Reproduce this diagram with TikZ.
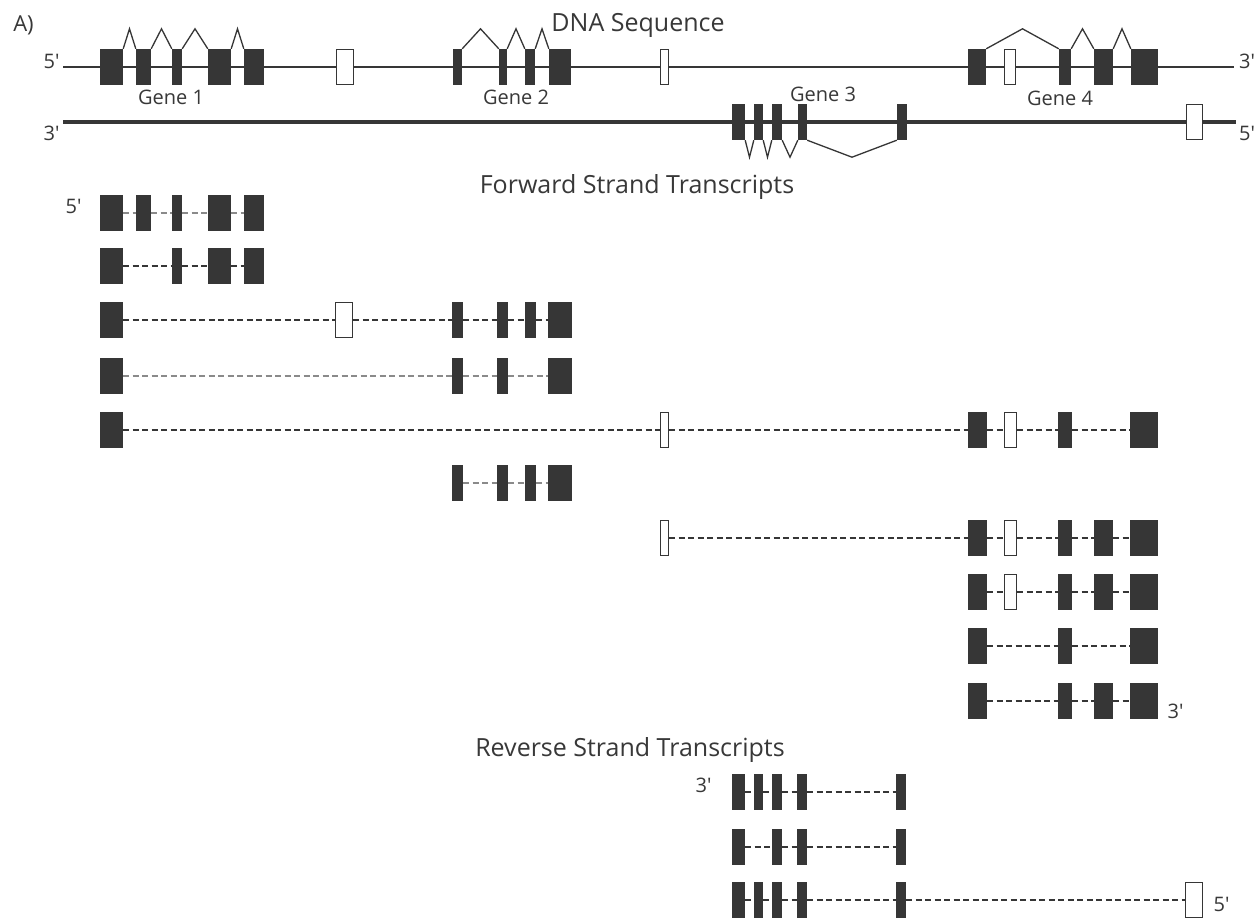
\documentclass[tikz,border=0pt]{standalone}
\usepackage{fontspec}
\setmainfont{Open Sans}
\usetikzlibrary{calc}
\definecolor{ink}{HTML}{363636}
\definecolor{txt}{HTML}{383838}
\definecolor{lgray}{HTML}{8A8A8A}
\tikzset{
 exon/.style={fill=ink, draw=none, inner sep=0pt, minimum height=36},
 openx/.style={fill=white, draw=ink, line width=1.4pt, inner sep=0pt, minimum height=34.6},
 strand/.style={draw=ink, line width=2.6pt},
 strandb/.style={draw=ink, line width=4pt},
 hat/.style={draw=ink, line width=1.3pt, line join=miter},
 intr/.style={draw=ink, line width=1.6pt, dash pattern=on 6pt off 3.5pt},
 intrl/.style={intr, draw=lgray},
 lbl/.style={text=txt, inner sep=0pt, anchor=base, font=\fontsize{20}{24}\selectfont},
 ttl/.style={lbl, font=\fontsize{25}{30}\selectfont},
}
% exon node: name, x1, x2, y
\newcommand\gx[4]{\node[exon,minimum width={#3-#2}] (#1) at ({(#2+#3)/2},#4) {};}
% open (untranslated) box node
\newcommand\ox[4]{\node[openx,minimum width={#3-#2-1.4}] (#1) at ({(#2+#3)/2},#4) {};}
\newcommand\hatc[2]{\draw[hat] (#1.north east) -- ($(#1.north east)!0.5!(#2.north west)+(0,-20)$) -- (#2.north west);}
\newcommand\trough[2]{\draw[hat] (#1.south east) -- ($(#1.south east)!0.5!(#2.south west)+(0,17)$) -- (#2.south west);}
\newcommand\pr{\textquotesingle}
\begin{document}
\begin{tikzpicture}[x=1pt,y=-1pt]
\fill[white] (0,0) rectangle (1259,919);
\useasboundingbox (0,0) rectangle (1259,919);

% ---------- labels (placed at baseline) ----------
\node[lbl, font=\fontsize{22}{26}\selectfont] (lA) at (23.5,31) {A)};
\node[ttl] (ldna) at (638,31.5) {DNA Sequence};
\node[lbl] (lt5) at (51.5,68) {5\pr};
\node[lbl] (lt3) at (1247,68) {3\pr};
\node[lbl] (lb3) at (51.5,140) {3\pr};
\node[lbl] (lb5) at (1247,140) {5\pr};
\node[lbl] (lg1) at (171,104) {Gene 1};
\node[lbl] (lg2) at (516,104) {Gene 2};
\node[lbl] (lg3) at (823,101) {Gene 3};
\node[lbl] (lg4) at (1060,105) {Gene 4};
\node[ttl] (lfw) at (637,193) {Forward Strand Transcripts};
\node[ttl] (lrv) at (630,756) {Reverse Strand Transcripts};
\node[lbl] (lr5) at (73.5,213) {5\pr};
\node[lbl] (lr3) at (1175.5,718) {3\pr};
\node[lbl] (lv3) at (703.5,792) {3\pr};
\node[lbl] (lv5) at (1221.5,911) {5\pr};

% ---------- DNA strands ----------
\coordinate (t5) at (63,67);
\coordinate (t3) at (1234,67);
\draw[strand] (t5) -- (t3);
\coordinate (b3) at (63,122);
\coordinate (b5) at (1236,122);
\draw[strandb] (b3) -- (b5);

% top strand genes
\gx{g1a}{100}{123}{67} \gx{g1b}{136}{151}{67} \gx{g1c}{172}{182}{67}
\gx{g1d}{208}{231}{67} \gx{g1e}{244}{264}{67}
\ox{g1o}{336}{354}{67}
\gx{g2a}{453}{462}{67} \gx{g2b}{499}{507}{67} \gx{g2c}{525}{535}{67} \gx{g2d}{549}{571}{67}
\ox{g2o}{660}{669}{67}
\gx{g4a}{968}{986}{67} \ox{g4o}{1004}{1016}{67} \gx{g4b}{1059}{1071}{67}
\gx{g4c}{1094}{1113}{67} \gx{g4d}{1131}{1158}{67}
\hatc{g1a}{g1b} \hatc{g1b}{g1c} \hatc{g1c}{g1d} \hatc{g1d}{g1e}
\hatc{g2a}{g2b} \hatc{g2b}{g2c} \hatc{g2c}{g2d}
\hatc{g4a}{g4b} \hatc{g4b}{g4c} \hatc{g4c}{g4d}

% bottom strand gene 3
\gx{g3a}{732}{745}{122} \gx{g3b}{754}{763}{122} \gx{g3c}{772}{782}{122}
\gx{g3d}{798}{807}{122} \gx{g3e}{897}{907}{122}
\ox{g3o}{1186}{1203}{122}
\trough{g3a}{g3b} \trough{g3b}{g3c} \trough{g3c}{g3d} \trough{g3d}{g3e}

% ---------- forward transcripts ----------
% row 1
\gx{r1a}{100}{123}{213} \gx{r1b}{136}{151}{213} \gx{r1c}{172}{182}{213}
\gx{r1d}{208}{231}{213} \gx{r1e}{244}{264}{213}
\foreach \a/\b in {r1a/r1b,r1b/r1c,r1c/r1d,r1d/r1e} \draw[intrl] (\a) -- (\b);
% row 2
\gx{r2a}{100}{123}{266} \gx{r2c}{172}{182}{266}
\gx{r2d}{208}{231}{266} \gx{r2e}{244}{264}{266}
\foreach \a/\b in {r2a/r2c,r2c/r2d,r2d/r2e} \draw[intr] (\a) -- (\b);
% row 3
\gx{r3a}{100}{123}{320} \ox{r3o}{335}{353}{320}
\gx{r3f}{452}{463}{320} \gx{r3g}{497}{508}{320} \gx{r3h}{525}{536}{320} \gx{r3i}{548}{572}{320}
\foreach \a/\b in {r3a/r3o,r3o/r3f,r3f/r3g,r3g/r3h,r3h/r3i} \draw[intr] (\a) -- (\b);
% row 4
\gx{r4a}{100}{123}{376}
\gx{r4f}{452}{463}{376} \gx{r4g}{497}{508}{376} \gx{r4i}{548}{572}{376}
\foreach \a/\b in {r4a/r4f,r4f/r4g,r4g/r4i} \draw[intrl] (\a) -- (\b);
% row 5
\gx{r5a}{100}{123}{430} \ox{r5o}{660}{669}{430}
\gx{r5k}{968}{987}{430} \ox{r5p}{1004}{1017}{430} \gx{r5l}{1058}{1072}{430} \gx{r5n}{1130}{1158}{430}
\foreach \a/\b in {r5a/r5o,r5o/r5k,r5k/r5p,r5p/r5l,r5l/r5n} \draw[intr] (\a) -- (\b);
% row 6
\gx{r6f}{452}{463}{483} \gx{r6g}{497}{508}{483} \gx{r6h}{525}{536}{483} \gx{r6i}{548}{572}{483}
\foreach \a/\b in {r6f/r6g,r6g/r6h,r6h/r6i} \draw[intrl] (\a) -- (\b);
% row 7
\ox{r7o}{660}{669}{538}
\gx{r7k}{968}{987}{538} \ox{r7p}{1004}{1017}{538} \gx{r7l}{1058}{1072}{538}
\gx{r7m}{1094}{1113}{538} \gx{r7n}{1130}{1158}{538}
\foreach \a/\b in {r7o/r7k,r7k/r7p,r7p/r7l,r7l/r7m,r7m/r7n} \draw[intr] (\a) -- (\b);
% row 8
\gx{r8k}{968}{987}{592} \ox{r8p}{1004}{1017}{592} \gx{r8l}{1058}{1072}{592}
\gx{r8m}{1094}{1113}{592} \gx{r8n}{1130}{1158}{592}
\foreach \a/\b in {r8k/r8p,r8p/r8l,r8l/r8m,r8m/r8n} \draw[intr] (\a) -- (\b);
% row 9
\gx{r9k}{968}{987}{646} \gx{r9l}{1058}{1072}{646} \gx{r9n}{1130}{1158}{646}
\foreach \a/\b in {r9k/r9l,r9l/r9n} \draw[intr,line width=1.2pt] (\a) -- (\b);
% row 10
\gx{rxk}{968}{987}{701} \gx{rxl}{1058}{1072}{701}
\gx{rxm}{1094}{1113}{701} \gx{rxn}{1130}{1158}{701}
\foreach \a/\b in {rxk/rxl,rxl/rxm,rxm/rxn} \draw[intr,line width=1.2pt] (\a) -- (\b);

% ---------- reverse transcripts ----------
\gx{v1a}{732}{745}{792} \gx{v1b}{754}{763}{792} \gx{v1c}{772}{782}{792}
\gx{v1d}{797}{807}{792} \gx{v1e}{896}{906}{792}
\foreach \a/\b in {v1a/v1b,v1b/v1c,v1c/v1d,v1d/v1e} \draw[intr,line width=1.2pt] (\a) -- (\b);
\gx{v2a}{732}{745}{847} \gx{v2c}{772}{782}{847}
\gx{v2d}{797}{807}{847} \gx{v2e}{896}{906}{847}
\foreach \a/\b in {v2a/v2c,v2c/v2d,v2d/v2e} \draw[intr,line width=1.2pt] (\a) -- (\b);
\gx{v3a}{732}{745}{900} \gx{v3b}{754}{763}{900} \gx{v3c}{772}{782}{900}
\gx{v3d}{797}{807}{900} \gx{v3e}{896}{906}{900} \ox{v3o}{1185}{1203}{900}
\foreach \a/\b in {v3a/v3b,v3b/v3c,v3c/v3d,v3d/v3e,v3e/v3o} \draw[intr,line width=1.2pt] (\a) -- (\b);
\end{tikzpicture}
\end{document}
